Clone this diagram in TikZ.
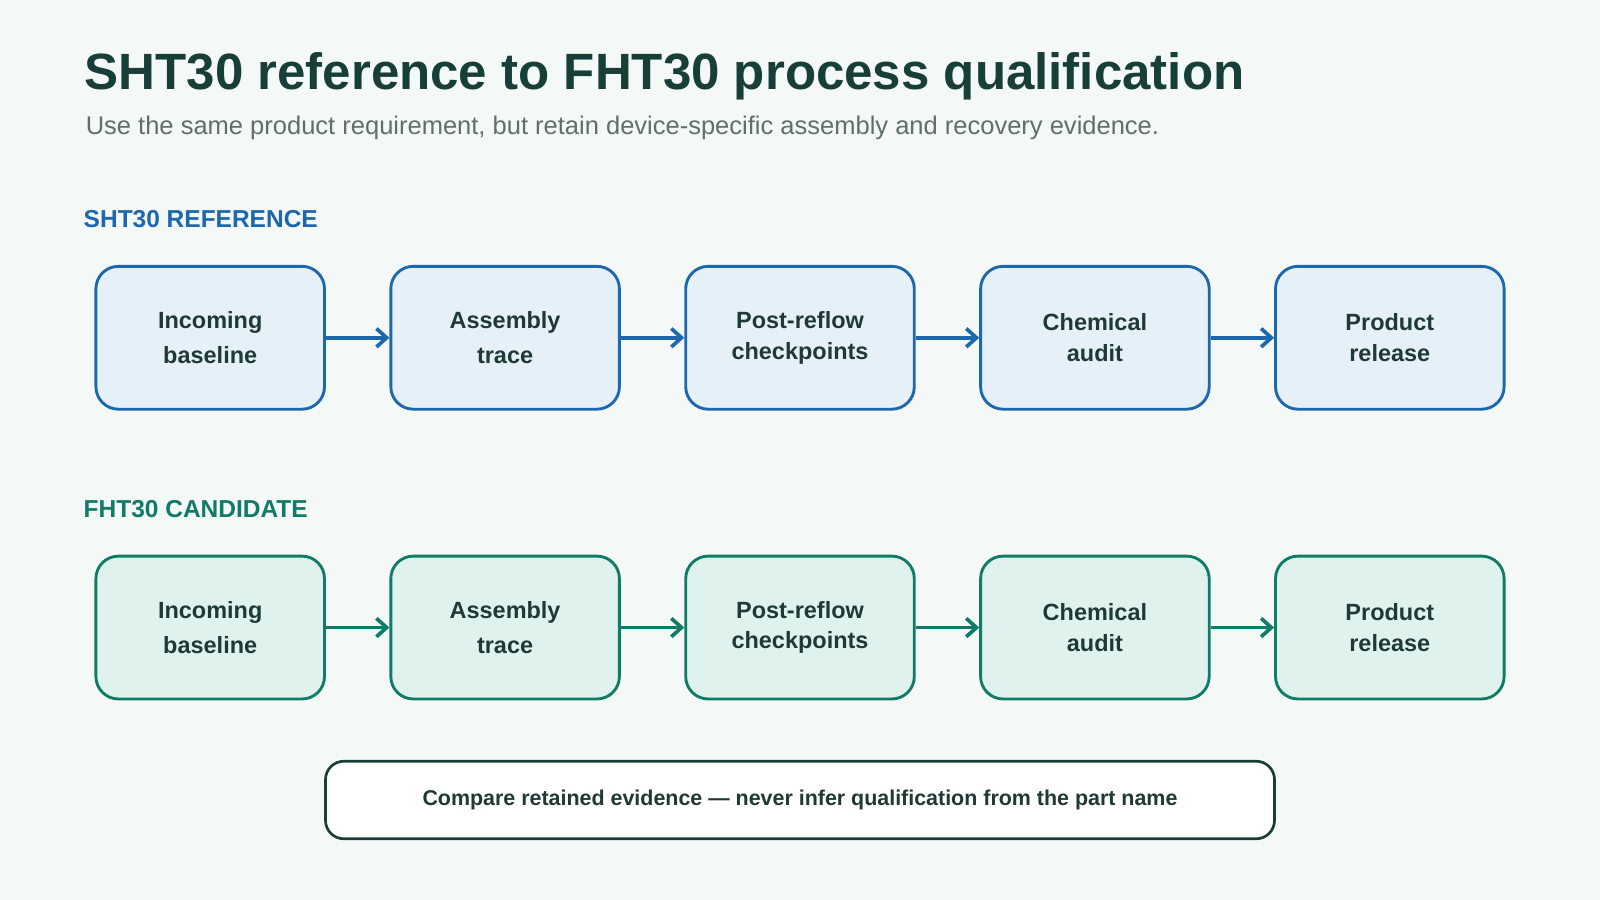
\documentclass[tikz,border=0pt]{standalone}
\usepackage{fontspec}
\setmainfont{Liberation Sans}
\usetikzlibrary{arrows.meta}
\definecolor{bg}{HTML}{F4F8F7}
\definecolor{ttl}{HTML}{173F37}
\definecolor{sub}{HTML}{5F6F6B}
\definecolor{bl}{HTML}{1D67AC}
\definecolor{blf}{HTML}{E6F0F9}
\definecolor{gr}{HTML}{107B66}
\definecolor{grf}{HTML}{E0F2EE}
\definecolor{txt}{HTML}{1F3A35}
\begin{document}
\begin{tikzpicture}[x=0.5pt,y=-0.5pt,
  box/.style={draw=#1,line width=1.4pt,rounded corners=11pt,minimum width=112pt,minimum height=70pt,align=center,text=txt,font=\fontsize{11.5}{17}\selectfont\bfseries},
  arr/.style={draw=#1,line width=1.8pt,-{Straight Barb[length=5pt,width=9pt]}},
  lbl/.style={anchor=west,font=\fontsize{12}{14}\selectfont\bfseries,text=#1}]
\fill[bg] (0,0) rectangle (1568,882);
\useasboundingbox (0,0) rectangle (1568,882);
\node[anchor=west,text=ttl,font=\fontsize{25}{30}\selectfont\bfseries] (t) at (76,75) {SHT30 reference to FHT30 process qualification};
\node[anchor=west,text=sub,font=\fontsize{12.5}{15}\selectfont] (s) at (77,125) {Use the same product requirement, but retain device-specific assembly and recovery evidence.};
\node[lbl=bl] (l1) at (75,215) {SHT30 REFERENCE};
\node[lbl=gr] (l2) at (75,499) {FHT30 CANDIDATE};
\foreach \r/\c/\f/\y in {a/bl/blf/331,b/gr/grf/615}{
  \node[box=\c,fill=\f] (\r1) at (206,\y) {Incoming\\baseline};
  \node[box=\c,fill=\f] (\r2) at (495,\y) {Assembly\\trace};
  \node[box=\c,fill=\f,font=\fontsize{11.5}{15}\selectfont\bfseries] (\r3) at (784,\y) {Post-reflow\\checkpoints};
  \node[box=\c,fill=\f,font=\fontsize{11.5}{15}\selectfont\bfseries] (\r4) at (1073,\y) {Chemical\\audit};
  \node[box=\c,fill=\f,font=\fontsize{11.5}{15}\selectfont\bfseries] (\r5) at (1362,\y) {Product\\release};
  \draw[arr=\c] (\r1) -- (\r2);
  \draw[arr=\c] (\r2) -- (\r3);
  \draw[arr=\c] (\r3) -- (\r4);
  \draw[arr=\c] (\r4) -- (\r5);
}
\node[draw=ttl,fill=white,line width=1.3pt,rounded corners=9pt,minimum width=465pt,minimum height=38pt,text=txt,font=\fontsize{10.5}{13}\selectfont\bfseries] (n) at (784,784) {Compare retained evidence — never infer qualification from the part name};
\end{tikzpicture}
\end{document}
